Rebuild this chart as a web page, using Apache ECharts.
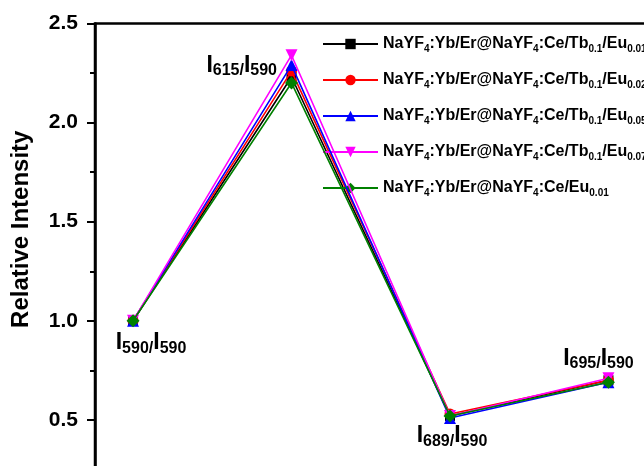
<!DOCTYPE html>
<html>
<head>
<meta charset="utf-8">
<script src="https://cdn.jsdelivr.net/npm/echarts@6/dist/echarts.min.js"></script>
<style>
  html, body { margin: 0; padding: 0; background: #fff; }
  #chart { width: 644px; height: 466px; }
</style>
</head>
<body>
<div id="chart"></div>
<script>
// Emission ratio positions (x index) and their subscript wavelengths
const ratioX = [1, 2, 3, 4];
const ratioNum = ['590', '615', '689', '695'];
const ratioDen = '590';

// Sample names: Tb and Eu subscripts (null Tb = no Tb)
const tbSub = ['0.1', '0.1', '0.1', '0.1', null];
const euSub = ['0.01', '0.02', '0.05', '0.07', '0.01'];

// Relative intensity per sample, at each ratio
const eu001 = [1.0, 2.23, 0.52, 0.70];
const eu002 = [1.0, 2.26, 0.53, 0.70];
const eu005 = [1.0, 2.29, 0.51, 0.69];
const eu007 = [1.0, 2.34, 0.52, 0.71];
const ceEu001 = [1.0, 2.20, 0.52, 0.69];

const yTicks = [0, 0.5, 1.0, 1.5, 2.0, 2.5];

const FONT = '"Liberation Sans", Arial, Helvetica, sans-serif';

function sampleName(i) {
  let s = 'NaYF{s|4}:Yb/Er@NaYF{s|4}:Ce/';
  if (tbSub[i]) s += 'Tb{s|' + tbSub[i] + '}/';
  s += 'Eu{s|' + euSub[i] + '}';
  return s;
}
const names = [0, 1, 2, 3, 4].map(sampleName);

const styles = [
  { color: '#000000', symbol: 'rect', size: 10, rot: 0 },
  { color: '#ff0000', symbol: 'circle', size: 11, rot: 0 },
  { color: '#0000ff', symbol: 'triangle', size: 12, rot: 0 },
  { color: '#ff00ff', symbol: 'triangle', size: 12, rot: 180 },
  { color: '#008000', symbol: 'diamond', size: 13, rot: 0 }
];
const values = [eu001, eu002, eu005, eu007, ceEu001];

// Ratio labels sit on the last (topmost) series
const labelPlacement = [
  { position: 'bottom', offset: [18, -2] },
  { position: 'left', offset: [-2, -16] },
  { position: 'bottom', offset: [2, -4] },
  { position: 'top', offset: [-10, 3] }
];

const ratioRich = {
  i: { fontFamily: FONT, fontWeight: 'bold', fontSize: 23, color: '#000', verticalAlign: 'top', lineHeight: 26 },
  s: { fontFamily: FONT, fontWeight: 'bold', fontSize: 16, color: '#000', verticalAlign: 'top', lineHeight: 26, padding: [9, 0, 0, 0] }
};

const series = values.map((vals, k) => {
  const st = styles[k];
  return {
    name: names[k],
    type: 'line',
    z: 2 + k,
    symbol: st.symbol,
    symbolSize: st.size,
    symbolRotate: st.rot,
    color: st.color,
    lineStyle: { width: 1.6, color: st.color },
    itemStyle: { color: st.color },
    data: vals.map((v, j) => {
      const item = { value: [ratioX[j], v] };
      if (k === values.length - 1) {
        item.label = {
          show: true,
          position: labelPlacement[j].position,
          offset: labelPlacement[j].offset,
          distance: 6,
          formatter: '{i|I}{s|' + ratioNum[j] + '/}{i|I}{s|' + ratioDen + '}',
          rich: ratioRich
        };
      }
      return item;
    })
  };
});

const chart = echarts.init(document.getElementById('chart'), null, { renderer: 'canvas' });
chart.setOption({
  animation: false,
  backgroundColor: '#ffffff',
  grid: {
    left: 95, top: 23.5, width: 561, height: 495.5,
    outerBoundsMode: 'none', containLabel: false,
    show: true, borderColor: '#000', borderWidth: 2.5, backgroundColor: 'transparent'
  },
  legend: {
    orient: 'vertical',
    left: 322, top: 33,
    padding: 0,
    itemWidth: 55, itemHeight: 13,
    itemGap: 14,
    data: names,
    textStyle: {
      fontFamily: FONT, fontWeight: 'bold', fontSize: 16, color: '#000',
      lineHeight: 22,
      rich: {
        s: { fontFamily: FONT, fontWeight: 'bold', fontSize: 10, color: '#000', verticalAlign: 'top', lineHeight: 22, padding: [11, 0, 0, 0] }
      }
    },
    formatter: n => n
  },
  xAxis: {
    type: 'value', min: 0.76, max: 4.3,
    axisLine: { show: false }, axisTick: { show: false },
    axisLabel: { show: false }, splitLine: { show: false }
  },
  yAxis: {
    type: 'value', min: yTicks[0], max: yTicks[yTicks.length - 1], interval: 0.5,
    name: 'Relative Intensity',
    nameLocation: 'middle', nameGap: 62, nameRotate: 90,
    nameTextStyle: { fontFamily: FONT, fontWeight: 'bold', fontSize: 24, color: '#000', padding: [0, 0, 0, 84] },
    axisLine: { show: true, lineStyle: { color: '#000', width: 2.5 } },
    axisTick: { show: true, inside: false, length: 8, lineStyle: { color: '#000', width: 2 } },
    minorTick: { show: true, splitNumber: 2, length: 5, lineStyle: { color: '#000', width: 2 } },
    axisLabel: {
      fontFamily: FONT, fontWeight: 'bold', fontSize: 21, color: '#000', margin: 17,
      formatter: v => v.toFixed(1)
    },
    splitLine: { show: false }
  },
  series: series
});
</script>
</body>
</html>
